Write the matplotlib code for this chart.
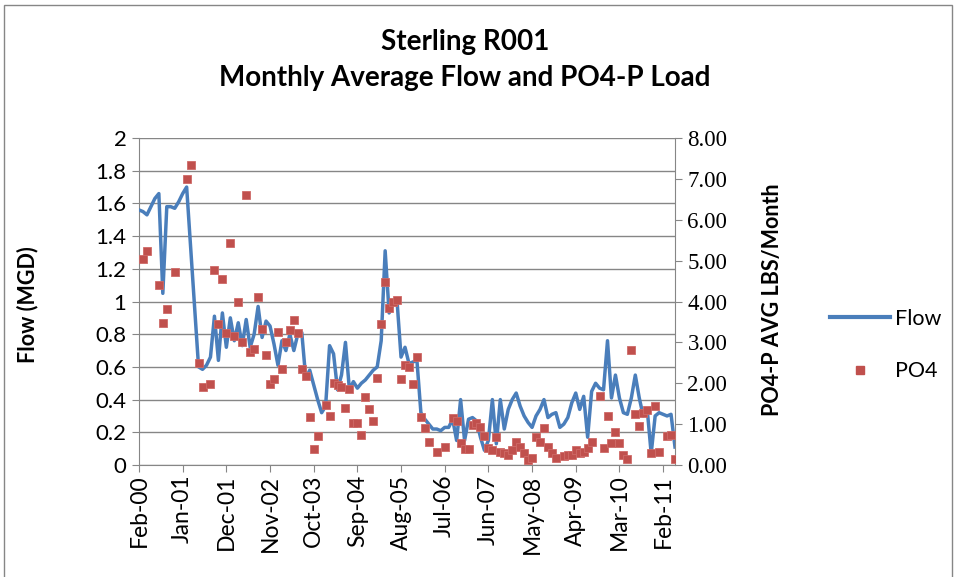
import numpy as np
import pandas as pd
import matplotlib
matplotlib.use("Agg")
import matplotlib.pyplot as plt
from matplotlib.patches import Rectangle
from matplotlib.lines import Line2D

# monthly dates, Feb-00 onwards
months = pd.date_range("2000-02-01", periods=136, freq="MS")

# monthly average flow (MGD)
flow = [1.56, 1.55, 1.53, 1.58, 1.63, 1.66, 1.05, 1.58, 1.58, 1.57,
        1.61, 1.66, 1.70, 1.33, 0.96, 0.60, 0.585, 0.61, 0.66, 0.91,
        0.64, 0.93, 0.72, 0.90, 0.76, 0.87, 0.73, 0.89, 0.72, 0.80,
        0.97, 0.78, 0.88, 0.85, 0.74, 0.61, 0.76, 0.70, 0.80, 0.70,
        0.80, 0.81, 0.53, 0.58, 0.49, 0.40, 0.32, 0.36, 0.73, 0.68,
        0.46, 0.55, 0.75, 0.46, 0.51, 0.47, 0.50, 0.52, 0.55, 0.58,
        0.60, 0.76, 1.31, 0.93, 0.98, 1.00, 0.66, 0.72, 0.62, 0.63,
        0.64, 0.32, 0.28, 0.25, 0.22, 0.22, 0.21, 0.23, 0.23, 0.28,
        0.15, 0.40, 0.15, 0.28, 0.29, 0.27, 0.17, 0.09, 0.15, 0.40,
        0.13, 0.40, 0.22, 0.34, 0.40, 0.44, 0.36, 0.30, 0.26, 0.23,
        0.30, 0.34, 0.40, 0.29, 0.31, 0.32, 0.23, 0.25, 0.29, 0.38,
        0.44, 0.34, 0.42, 0.17, 0.45, 0.50, 0.47, 0.46, 0.76, 0.41,
        0.55, 0.41, 0.32, 0.31, 0.41, 0.55, 0.41, 0.30, 0.34, 0.07,
        0.30, 0.32, 0.31, 0.30, 0.31, 0.11]

# PO4-P load (lbs/month), None = no sample that month
po4 = [None, 5.05, 5.24, None, None, 4.40, 3.48, 3.81, None, 4.71,
       None, None, 6.99, 7.33, None, 2.49, 1.90, None, 1.97, 4.77,
       3.46, 4.56, 3.23, 5.42, 3.15, 3.98, 3.02, 6.60, 2.77, 2.85,
       4.10, 3.32, 2.69, 1.98, 2.10, 3.26, 2.34, 3.02, 3.30, 3.55,
       3.23, 2.34, 2.18, 1.17, 0.38, 0.71, None, 1.47, 1.20, 2.00,
       1.96, 1.92, 1.40, 1.87, 1.03, 1.03, 0.73, 1.67, 1.36, 1.08,
       2.14, 3.46, 4.48, 3.83, 3.99, 4.03, 2.10, 2.44, 2.40, 1.98,
       2.63, 1.17, 0.90, 0.57, None, 0.33, None, 0.45, None, 1.14,
       1.07, 0.53, 0.38, 0.38, 0.98, 1.02, 0.94, 0.71, 0.41, 0.37,
       0.69, 0.31, 0.30, 0.24, 0.37, 0.57, 0.45, 0.29, 0.12, 0.16,
       0.69, 0.57, 0.91, 0.45, 0.29, 0.16, None, 0.22, 0.24, 0.24,
       0.37, 0.29, 0.33, 0.41, 0.57, None, 1.69, 0.41, 1.21, 0.53,
       0.81, 0.53, 0.24, 0.14, 2.81, 1.24, 0.95, 1.27, 1.35, 0.30,
       1.45, 0.33, None, 0.71, 0.73, 0.14]

flow_ticks = [0, 0.2, 0.4, 0.6, 0.8, 1, 1.2, 1.4, 1.6, 1.8, 2]
po4_ticks = [0, 1, 2, 3, 4, 5, 6, 7, 8]

x = np.arange(len(months))
po4_arr = np.array([np.nan if v is None else v for v in po4])

sans = "Lato"
grey = "#868686"
blue = "#4A7EBB"
red = "#C0504D"

fig = plt.figure(figsize=(9.56, 5.77), dpi=100)
fig.patches.append(Rectangle((4 / 956, -0.05), 948 / 956, 1.05 - 5 / 577,
                             transform=fig.transFigure, fill=False,
                             edgecolor=grey, lw=1))

ax = fig.add_axes([139 / 956, 1 - 465 / 577, 536 / 956, 327 / 577])
ax2 = ax.twinx()

ax.plot(x, flow, color=blue, lw=2.5, zorder=3, solid_joinstyle="round")
ax2.plot(x, po4_arr, ls="none", marker="s", ms=5.8, color=red,
         mec="#CF6A67", mew=0.6, zorder=4)

ax.set_xlim(0, 135)
ax.set_ylim(0, 2)
ax2.set_ylim(0, 8)

ax.set_yticks(flow_ticks)
ax.set_yticklabels([f"{v:g}" for v in flow_ticks], fontsize=16, family=sans)
ax2.set_yticks(po4_ticks)
ax2.set_yticklabels([f"{v:.2f}" for v in po4_ticks], fontsize=16.5,
                    family="Liberation Serif")

xt = list(range(0, len(months), 11))
ax.set_xticks(xt)
ax.set_xticklabels([months[i].strftime("%b-%y") for i in xt], rotation=90,
                   fontsize=16.5, family=sans)

ax.yaxis.grid(True, color=grey, lw=1)
ax.set_axisbelow(True)

for a in (ax, ax2):
    a.spines["top"].set_visible(False)
    for s in ("left", "right", "bottom"):
        a.spines[s].set_color(grey)
ax.spines["right"].set_visible(False)
ax2.spines["left"].set_visible(False)
ax2.spines["bottom"].set_visible(False)

ax.tick_params(axis="y", direction="out", length=5, color=grey, pad=4)
ax.tick_params(axis="x", direction="out", length=5, color=grey, pad=2)
ax2.tick_params(axis="y", direction="out", length=5, color=grey, pad=4)

fig.text(28 / 956, 1 - 305 / 577, "Flow (MGD)", rotation=90, ha="center",
         va="center", fontsize=15.5, fontweight="bold", family=sans)
fig.text(773 / 956, 1 - 300 / 577, "PO4-P AVG LBS/Month", rotation=90,
         ha="center", va="center", fontsize=15.5, fontweight="bold", family=sans)

fig.text(465 / 956, 1 - 42 / 577, "Sterling R001", ha="center", va="center",
         fontsize=20, fontweight="bold", family=sans)
fig.text(465 / 956, 1 - 78 / 577, "Monthly Average Flow and PO4-P Load",
         ha="center", va="center", fontsize=20, fontweight="bold", family=sans)

handles = [Line2D([], [], color=blue, lw=3),
           Line2D([], [], ls="none", marker="s", ms=6, color=red)]
fig.legend(handles, ["Flow", "PO4"], loc="center left",
           bbox_to_anchor=(830 / 956, 1 - 345 / 577), frameon=False,
           prop={"family": sans, "size": 15.5},
           handlelength=2.8, handletextpad=0.2, labelspacing=1.5,
           borderpad=0, borderaxespad=0)

fig.savefig("out.png", dpi=100)
